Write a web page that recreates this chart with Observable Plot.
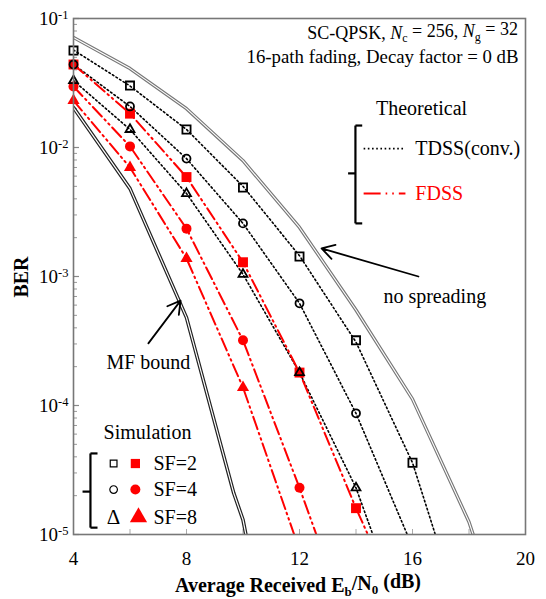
<!DOCTYPE html>
<html>
<head>
<meta charset="utf-8">
<script src="https://cdn.jsdelivr.net/npm/d3@7"></script>
<script src="https://cdn.jsdelivr.net/npm/@observablehq/plot@0.6"></script>
<style>
  html, body { margin: 0; padding: 0; background: #fff; }
  #chart svg { display: block; }
</style>
</head>
<body>
<div id="chart"></div>
<script>
// ---------- data ----------
const ebn0 = [4, 6, 8, 10, 12, 14, 16];

// Theoretical curves (x, BER)
const noSpreadX = [4, 6, 8, 10, 12, 14, 16, 18, 18.6];
const noSpreadY = [0.0713, 0.0409, 0.0200, 0.0079, 0.0024, 5.5e-4, 1.12e-4, 1.25e-5, 5e-6];
const mfBoundX = [4, 6, 8, 9.67, 10, 10.3];
const mfBoundY = [0.0204, 0.0048, 4.8e-4, 2.1e-5, 1.3e-5, 6e-6];

const tdssX = [4, 6, 8, 10, 12, 14, 16, 18];
const tdssSF2 = [0.057, 0.030, 0.0138, 0.0050, 0.00145, 3.1e-4, 3.6e-5, 1.5e-6];
const tdssSF4 = [0.044, 0.0208, 0.0082, 0.00258, 6.2e-4, 8.7e-5, 8e-6, 5e-7];
const tdssSF8 = [0.033, 0.0138, 0.0044, 0.00104, 1.8e-4, 2.3e-5, 1.4e-6, 1e-7];

const fdssX = [4, 6, 8, 10, 12, 14, 16];
const fdssSF2 = [0.044, 0.0183, 0.0059, 0.00129, 1.8e-4, 1.6e-5, 1.7e-6];
const fdssSF4 = [0.0297, 0.0102, 0.00235, 3.2e-4, 2.3e-5, 1.4e-6, 1e-7];
const fdssSF8 = [0.0231, 0.0070, 0.00138, 1.38e-4, 7.6e-6, 3e-7, 1e-8];

// Simulation points
const simTdssSF2 = [0.0565, 0.0302, 0.0138, 0.0049, 0.00143, 3.2e-4, 3.6e-5];
const simTdssSF4 = [0.044, 0.0208, 0.0082, 0.00258, 6.2e-4, 8.7e-5];
const simTdssSF8 = [0.033, 0.0138, 0.0044, 0.00104, 1.8e-4, 2.3e-5];
const simFdssSF2 = [0.044, 0.0183, 0.0059, 0.00129, 1.8e-4, 1.6e-5];
const simFdssSF4 = [0.0297, 0.0102, 0.00235, 3.2e-4, 2.3e-5];
const simFdssSF8 = [0.0231, 0.0070, 0.00138, 1.38e-4];

const xTicks = [4, 8, 12, 16, 20];
const xMinorTicks = [6, 8, 10, 12, 14, 16, 18];
const yTicks = [1e-1, 1e-2, 1e-3, 1e-4, 1e-5];
const yMinorTicks = [];
for (let e = -5; e < -1; e++) for (let m = 2; m <= 9; m++) yMinorTicks.push(m * Math.pow(10, e));

const sfLabels = ["SF=2", "SF=4", "SF=8"];
const sfSymbols = ["square", "circle", "triangle"];
const sfLegendY = [3.55e-5, 2.23e-5, 1.36e-5];

// ---------- helpers ----------
const zip = (xs, ys) => ys.map((y, i) => ({x: xs[i], y}));
const RED = "#ff0000";
const FONT = "'Liberation Serif', 'Times New Roman', serif";
const W = 546, H = 599;
const mL = 73, mR = 21, mT = 18, mB = 65;
const plotW = W - mL - mR, plotH = H - mT - mB;
const FS = 20;

const dotted = {stroke: "#000", strokeWidth: 1.6, strokeDasharray: "1.6,2.6"};
const dashDot = {stroke: RED, strokeWidth: 2, strokeDasharray: "13,4,1.6,4,1.6,4"};

const marks = [
  // ticks inside the frame
  Plot.tickY(yMinorTicks, {y: d => d, insetRight: plotW - 4, stroke: "#999", strokeWidth: 1}),
  Plot.tickY(yTicks, {y: d => d, insetRight: plotW - 6, stroke: "#888", strokeWidth: 1.2}),
  Plot.tickX(xMinorTicks, {x: d => d, insetTop: plotH - 5, stroke: "#aaa", strokeWidth: 1}),

  // double lines
  Plot.line(zip(noSpreadX, noSpreadY), {x: "x", y: "y", stroke: "#777", strokeWidth: 3.4, clip: true}),
  Plot.line(zip(noSpreadX, noSpreadY), {x: "x", y: "y", stroke: "#fff", strokeWidth: 1.1, clip: true}),
  Plot.line(zip(mfBoundX, mfBoundY), {x: "x", y: "y", stroke: "#222", strokeWidth: 3.6, clip: true}),
  Plot.line(zip(mfBoundX, mfBoundY), {x: "x", y: "y", stroke: "#fff", strokeWidth: 1.2, clip: true}),

  // theoretical TDSS (dotted)
  Plot.line(zip(tdssX, tdssSF2), {x: "x", y: "y", ...dotted, clip: true}),
  Plot.line(zip(tdssX, tdssSF4), {x: "x", y: "y", ...dotted, clip: true}),
  Plot.line(zip(tdssX, tdssSF8), {x: "x", y: "y", ...dotted, clip: true}),

  // theoretical FDSS (dash-dot-dot)
  Plot.line(zip(fdssX, fdssSF2), {x: "x", y: "y", ...dashDot, clip: true}),
  Plot.line(zip(fdssX, fdssSF4), {x: "x", y: "y", ...dashDot, clip: true}),
  Plot.line(zip(fdssX, fdssSF8), {x: "x", y: "y", ...dashDot, clip: true}),

  // simulation FDSS (filled red)
  Plot.dot(zip(ebn0, simFdssSF2), {x: "x", y: "y", symbol: "square", r: 5.6, fill: RED, stroke: "none"}),
  Plot.dot(zip(ebn0, simFdssSF4), {x: "x", y: "y", symbol: "circle", r: 5, fill: RED, stroke: "none"}),
  Plot.dot(zip(ebn0, simFdssSF8), {x: "x", y: "y", symbol: "triangle", r: 4.5, fill: RED, stroke: "none"}),

  // simulation TDSS (hollow black)
  Plot.dot(zip(ebn0, simTdssSF2), {x: "x", y: "y", symbol: "square", r: 4.6, fill: "none", stroke: "#000", strokeWidth: 1.8}),
  Plot.dot(zip(ebn0, simTdssSF4), {x: "x", y: "y", symbol: "circle", r: 4, fill: "none", stroke: "#000", strokeWidth: 1.8}),
  Plot.dot(zip(ebn0, simTdssSF8), {x: "x", y: "y", symbol: "triangle", r: 3.3, fill: "none", stroke: "#000", strokeWidth: 1.8}),

  Plot.frame({stroke: "#777", strokeWidth: 1.6}),

  // ---- annotations ----
  Plot.text(["16-path fading, Decay factor = 0 dB"], {x: 19.75, y: 0.0499, text: d => d, textAnchor: "end", fontSize: 18.8, fill: "#000"}),
  Plot.text(["Theoretical"], {x: 16.32, y: 0.0200, text: d => d, fontSize: FS, fill: "#000"}),
  Plot.link([0], {x1: 13.98, x2: 13.98, y1: 0.0148, y2: 0.00258, stroke: "#000", strokeWidth: 2.2}),
  Plot.link([0], {x1: 13.98, x2: 14.22, y1: 0.0148, y2: 0.0148, stroke: "#000", strokeWidth: 2.2}),
  Plot.link([0], {x1: 13.98, x2: 14.22, y1: 0.00258, y2: 0.00258, stroke: "#000", strokeWidth: 2.2}),
  Plot.link([0], {x1: 13.72, x2: 13.98, y1: 0.0063, y2: 0.0063, stroke: "#000", strokeWidth: 2.2}),
  Plot.link([0], {x1: 14.27, x2: 15.75, y1: 0.0098, y2: 0.0098, ...dotted}),
  Plot.link([0], {x1: 14.27, x2: 15.75, y1: 0.0044, y2: 0.0044, ...dashDot, strokeDasharray: "17,5,1.6,5,1.6,5"}),
  Plot.text(["TDSS(conv.)"], {x: 16.1, y: 0.0098, text: d => d, textAnchor: "start", fontSize: FS, fill: "#000"}),
  Plot.text(["FDSS"], {x: 16.1, y: 0.0044, text: d => d, textAnchor: "start", fontSize: FS, fill: RED}),

  Plot.text(["no spreading"], {x: 14.97, y: 7.0e-4, text: d => d, textAnchor: "start", fontSize: FS, fill: "#000"}),
  Plot.arrow([0], {x1: 16.21, y1: 1.0e-3, x2: 12.78, y2: 1.65e-3, stroke: "#000", strokeWidth: 1.8, headLength: 12}),
  Plot.text(["MF bound"], {x: 6.65, y: 2.15e-4, text: d => d, fontSize: FS, fill: "#000"}),
  Plot.arrow([0], {x1: 6.65, y1: 3.03e-4, x2: 7.79, y2: 6.5e-4, stroke: "#000", strokeWidth: 1.8, headLength: 12}),

  Plot.text(["Simulation"], {x: 6.62, y: 6.2e-5, text: d => d, fontSize: FS, fill: "#000"}),
  Plot.link([0], {x1: 4.60, x2: 4.60, y1: 4.25e-5, y2: 1.13e-5, stroke: "#000", strokeWidth: 2.2}),
  Plot.link([0], {x1: 4.60, x2: 4.85, y1: 4.25e-5, y2: 4.25e-5, stroke: "#000", strokeWidth: 2.2}),
  Plot.link([0], {x1: 4.60, x2: 4.85, y1: 1.13e-5, y2: 1.13e-5, stroke: "#000", strokeWidth: 2.2}),
  Plot.link([0], {x1: 4.32, x2: 4.60, y1: 2.15e-5, y2: 2.15e-5, stroke: "#000", strokeWidth: 2.2}),
  Plot.dot(sfSymbols.slice(0, 2).map((s, i) => ({s, y: sfLegendY[i]})),
    {x: 5.42, y: "y", symbol: "s", r: 3.8, fill: "none", stroke: "#000", strokeWidth: 1.2}),
  Plot.text(["Δ"], {x: 5.42, y: sfLegendY[2], text: d => d, fontSize: 21, fill: "#000"}),
  Plot.dot(sfSymbols.map((s, i) => ({s, y: sfLegendY[i], r: [5.2, 5, 6.4][i], x: [6.19, 6.19, 6.3][i]})),
    {x: "x", y: "y", symbol: "s", r: "r", fill: RED, stroke: "none"}),
  Plot.text(sfLabels.map((s, i) => ({s, y: sfLegendY[i]})),
    {x: 6.83, y: "y", text: "s", textAnchor: "start", fontSize: FS, fill: "#000"}),

  // axes
  Plot.axisY(yTicks, {tickSize: 0, tickPadding: 5, tickFormat: d => String(Math.round(Math.log10(d))), fontSize: 19}),
  Plot.axisX(xTicks, {tickSize: 0, tickPadding: 17, tickFormat: d => String(d), fontSize: 19})
];

const plot = Plot.plot({
  width: W, height: H,
  marginLeft: mL, marginRight: mR, marginTop: mT, marginBottom: mB,
  style: {fontFamily: FONT, fontSize: "19px", background: "#fff", color: "#000"},
  x: {domain: [4, 20], label: null},
  y: {type: "log", domain: [1e-5, 1e-1], label: null},
  r: {type: "identity"},
  symbol: {type: "identity"},
  marks
});

document.getElementById("chart").appendChild(plot);

// ---- rich-text post-processing ----
const svg = d3.select(plot);
svg.selectAll('g[aria-label="y-axis tick label"] text').each(function() {
  const e = this.textContent;
  const t = d3.select(this);
  t.text("10");
  t.append("tspan").attr("dy", "-0.45em").attr("font-size", 12.5).text(e);
});

const sx = plot.scale("x"), sy = plot.scale("y");
const sub = (t, s, fs) => { t.append("tspan").attr("dy", "0.3em").attr("font-size", fs).text(s); };

// header line 1: SC-QPSK, Nc = 256, Ng = 32
{
  const t = svg.append("text")
    .attr("x", sx.apply(19.75)).attr("y", sy.apply(0.0765))
    .attr("dy", "0.32em").attr("text-anchor", "end")
    .attr("font-family", FONT).attr("font-size", 18).attr("fill", "#000");
  t.append("tspan").text("SC-QPSK, ");
  t.append("tspan").attr("font-style", "italic").text("N");
  sub(t, "c", 12);
  t.append("tspan").attr("dy", "-0.3em").text(" = 256, ");
  t.append("tspan").attr("font-style", "italic").text("N");
  sub(t, "g", 12);
  t.append("tspan").attr("dy", "-0.3em").text(" = 32");
}

// x title
{
  const t = svg.append("text")
    .attr("x", (mL + W - mR) / 2 - 1).attr("y", H - 7)
    .attr("text-anchor", "middle").attr("font-family", FONT)
    .attr("font-size", 20).attr("font-weight", "bold").attr("fill", "#000");
  t.append("tspan").text("Average Received E");
  sub(t, "b", 13);
  t.append("tspan").attr("dy", "-0.3em").text("/N");
  sub(t, "0", 13);
  t.append("tspan").attr("dy", "-0.3em").text(" (dB)");
}

// y title
svg.append("text")
  .attr("transform", `translate(28, ${mT + plotH * 0.502}) rotate(-90)`)
  .attr("text-anchor", "middle").attr("font-family", FONT)
  .attr("font-size", 20).attr("font-weight", "bold").attr("fill", "#000")
  .text("BER");
</script>
</body>
</html>
